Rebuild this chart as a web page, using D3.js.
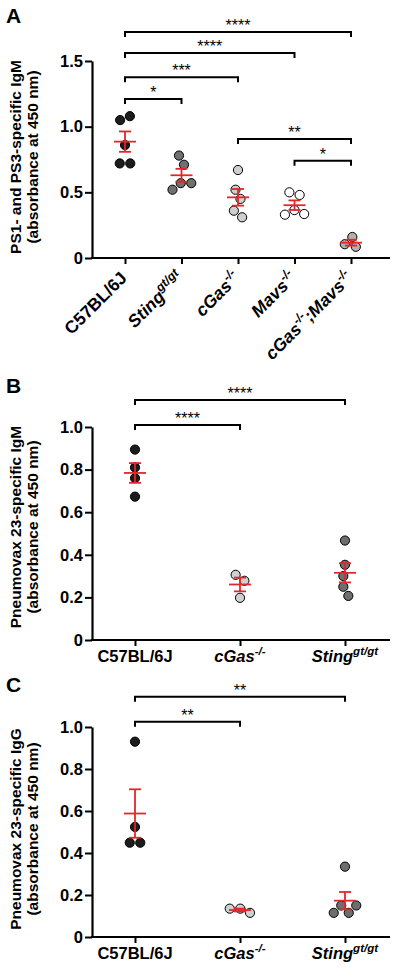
<!DOCTYPE html>
<html><head><meta charset="utf-8">
<script src="https://cdn.jsdelivr.net/npm/d3@7"></script>
<style>
body{margin:0;background:#fff}
svg{display:block}
text{font-family:"Liberation Sans",Arial,Helvetica,sans-serif}
</style>
</head><body>
<svg id="chart" width="400" height="973"></svg>
<script>
// ---------- DATA ----------
// Panel A: PS1- and PS3-specific IgM
const labelsA = [
  [["C57BL/6J",""]],
  [["Sting","i"],["gt/gt","is"]],
  [["cGas","i"],["-/-","is"]],
  [["Mavs","i"],["-/-","is"]],
  [["cGas","i"],["-/-","is"],[";Mavs","i"],["-/-","is"]]
];
const valuesA = [
  [1.05, 1.08, 0.72, 0.72, 0.86],
  [0.78, 0.71, 0.57, 0.57, 0.52],
  [0.67, 0.52, 0.45, 0.36, 0.31],
  [0.50, 0.48, 0.365, 0.335, 0.33],
  [0.16, 0.085, 0.105]
];
const ticksA = [0, 0.5, 1.0, 1.5];
// [group from, group to, height (y units), label]
const bracketsA = [
  [0, 4, 1.72, "****"],
  [0, 3, 1.56, "****"],
  [0, 2, 1.377, "***"],
  [0, 1, 1.21, "*"],
  [2, 4, 0.906, "**"],
  [3, 4, 0.74, "*"]
];
const titleA = ["PS1- and PS3-specific IgM", "(absorbance at 450 nm)"];

// Panel B: Pneumovax 23-specific IgM
const labelsBC = [
  [["C57BL/6J",""]],
  [["cGas","i"],["-/-","is"]],
  [["Sting","i"],["gt/gt","is"]]
];
const valuesB = [
  [0.894, 0.81, 0.76, 0.673],
  [0.306, 0.278, 0.198],
  [0.467, 0.353, 0.30, 0.25, 0.207]
];
const ticksBC = [0, 0.2, 0.4, 0.6, 0.8, 1.0];
const bracketsB = [
  [0, 2, 1.127, "****"],
  [0, 1, 1.009, "****"]
];
const titleB = ["Pneumovax 23-specific IgM", "(absorbance at 450 nm)"];

// Panel C: Pneumovax 23-specific IgG
const valuesC = [
  [0.93, 0.524, 0.449, 0.449],
  [0.135, 0.115, 0.135],
  [0.15, 0.115, 0.115, 0.15, 0.335]
];
const bracketsC = [
  [0, 2, 1.144, "**"],
  [0, 1, 1.025, "**"]
];
const titleC = ["Pneumovax 23-specific IgG", "(absorbance at 450 nm)"];

// ---------- STYLE ----------
const fillsA = ["#1c1c1c", "#707070", "#cfcfcf", "#ffffff", "#b0b0b0"];
const fillsBC = ["#1c1c1c", "#d0d0d0", "#6e6e6e"];
const RED = "#e3262b";
const R = 4.6;
const FONT = '"Liberation Sans",Arial,Helvetica,sans-serif';

const svg = d3.select("#chart");

function swarm(vals, y) {
  const placed = [];
  vals.forEach(v => {
    const py = y(v);
    let off = 0;
    for (let k = 0; k < 400; k++) {
      const o = (k % 2 ? 1 : -1) * Math.ceil(k / 2) * 0.25;
      if (placed.every(p => Math.hypot(p.x - o, p.y - py) >= 2 * R + 1.2)) { off = o; break; }
    }
    placed.push({x: off, y: py});
  });
  // centre each cluster of touching points
  const comp = placed.map((_, i) => i);
  const find = i => comp[i] === i ? i : (comp[i] = find(comp[i]));
  for (let i = 0; i < placed.length; i++)
    for (let j = i + 1; j < placed.length; j++)
      if (Math.hypot(placed[i].x - placed[j].x, placed[i].y - placed[j].y) < 2 * R + 2)
        comp[find(i)] = find(j);
  const groups = d3.group(placed.map((p, i) => i), i => find(i));
  groups.forEach(idx => {
    const m = d3.mean(idx, i => placed[i].x);
    idx.forEach(i => placed[i].x -= m);
  });
  return placed.map(p => p.x);
}

function addLabel(text, parts, fs) {
  let up = false;
  parts.forEach(([t, f]) => {
    const sp = text.append("tspan").text(t);
    if (f.includes("i")) sp.attr("font-style", "italic");
    if (f.includes("s")) {
      sp.attr("font-size", fs * 0.7);
      if (!up) { sp.attr("dy", -fs * 0.42); up = true; }
    } else if (up) { sp.attr("dy", fs * 0.42); up = false; }
  });
}

function panel(cfg) {
  const g = svg.append("g");
  const y = d3.scaleLinear().domain([0, cfg.yMax]).range([cfg.y0, cfg.y1]);
  const x = d3.scalePoint().domain(d3.range(cfg.labels.length)).range(cfg.xr);

  // y axis
  const ya = g.append("g").attr("transform", `translate(${cfg.ax},0)`)
    .call(d3.axisLeft(y).tickValues(cfg.ticks)
      .tickFormat(d => d === 0 ? "0" : d.toFixed(1))
      .tickSize(7).tickSizeOuter(0).tickPadding(2));
  ya.select(".domain").attr("stroke", "#000").attr("stroke-width", 2.2);
  ya.selectAll(".tick line").attr("stroke", "#000").attr("stroke-width", 2);
  ya.selectAll(".tick text").attr("font-size", 16.5).attr("font-weight", "bold")
    .attr("font-family", FONT).attr("fill", "#000");

  // x axis
  g.append("line").attr("x1", cfg.ax - 1).attr("x2", cfg.axEnd)
    .attr("y1", cfg.y0).attr("y2", cfg.y0).attr("stroke", "#000").attr("stroke-width", 2.2);
  const xa = g.append("g").attr("transform", `translate(0,${cfg.y0})`)
    .call(d3.axisBottom(x).tickSize(6).tickFormat(""));
  xa.select(".domain").remove();
  xa.selectAll(".tick line").attr("stroke", "#000").attr("stroke-width", 2);

  // category labels
  cfg.labels.forEach((parts, i) => {
    const t = g.append("text").attr("font-size", cfg.lfs).attr("font-weight", "bold")
      .attr("font-family", FONT).attr("fill", "#000");
    if (cfg.rotate) {
      t.attr("text-anchor", "end")
        .attr("transform", `translate(${x(i) + 3},${cfg.y0 + 21}) rotate(-45)`);
    } else {
      t.attr("text-anchor", "middle").attr("x", x(i)).attr("y", cfg.y0 + 22);
    }
    addLabel(t, parts, cfg.lfs);
  });

  // y title
  const tt = g.append("text").attr("transform", `translate(0,${cfg.tc}) rotate(-90)`)
    .attr("text-anchor", "middle").attr("font-size", 15.5).attr("font-weight", "bold")
    .attr("font-family", FONT).attr("fill", "#000");
  cfg.title.forEach((line, k) => {
    tt.append("tspan").attr("x", 0).attr("y", cfg.tx[k]).text(line);
  });

  // panel letter
  g.append("text").attr("x", 6).attr("y", cfg.letterY).attr("font-size", 21)
    .attr("font-weight", "bold").attr("font-family", FONT).text(cfg.letter);

  // brackets
  cfg.brackets.forEach(([a, b, v, lab]) => {
    const yy = y(v), x1 = x(a), x2 = x(b);
    g.append("path").attr("d", `M${x1},${yy + 5}V${yy}H${x2}V${yy + 5}`)
      .attr("fill", "none").attr("stroke", "#000").attr("stroke-width", 2);
    g.append("text").attr("x", (x1 + x2) / 2).attr("y", yy - 1)
      .attr("text-anchor", "middle").attr("font-size", 16).attr("font-family", FONT)
      .text(lab);
  });

  // dots
  cfg.values.forEach((vals, i) => {
    const offs = swarm(vals, y);
    g.append("g").selectAll("circle").data(vals).join("circle")
      .attr("cx", (d, k) => x(i) + offs[k]).attr("cy", d => y(d)).attr("r", R)
      .attr("fill", cfg.fills[i]).attr("stroke", "#000").attr("stroke-width", 1);
  });

  // mean +/- SEM
  cfg.values.forEach((vals, i) => {
    const m = d3.mean(vals);
    const sem = d3.deviation(vals) / Math.sqrt(vals.length);
    const cx = x(i);
    const eg = g.append("g").attr("stroke", RED).attr("stroke-width", 1.8).attr("fill", "none");
    eg.append("line").attr("x1", cx).attr("x2", cx).attr("y1", y(m - sem)).attr("y2", y(m + sem));
    [m - sem, m + sem].forEach(v => eg.append("line").attr("x1", cx - 6).attr("x2", cx + 6)
      .attr("y1", y(v)).attr("y2", y(v)));
    eg.append("line").attr("x1", cx - 11).attr("x2", cx + 11).attr("y1", y(m)).attr("y2", y(m));
  });
}

panel({letter: "A", letterY: 23, labels: labelsA, values: valuesA, fills: fillsA,
  ticks: ticksA, yMax: 1.5, y0: 258, y1: 61, ax: 92, axEnd: 390, xr: [125, 351],
  brackets: bracketsA, title: titleA, tc: 157, tx: [21, 38], rotate: true, lfs: 17.5});
panel({letter: "B", letterY: 393, labels: labelsBC, values: valuesB, fills: fillsBC,
  ticks: ticksBC, yMax: 1.0, y0: 640, y1: 427, ax: 92, axEnd: 390, xr: [135, 345],
  brackets: bracketsB, title: titleB, tc: 527, tx: [21, 38], rotate: false, lfs: 16.5});
panel({letter: "C", letterY: 692, labels: labelsBC, values: valuesC, fills: fillsBC,
  ticks: ticksBC, yMax: 1.0, y0: 937, y1: 727, ax: 92, axEnd: 390, xr: [135, 345],
  brackets: bracketsC, title: titleC, tc: 829, tx: [21, 38], rotate: false, lfs: 16.5});
</script>
</body></html>
